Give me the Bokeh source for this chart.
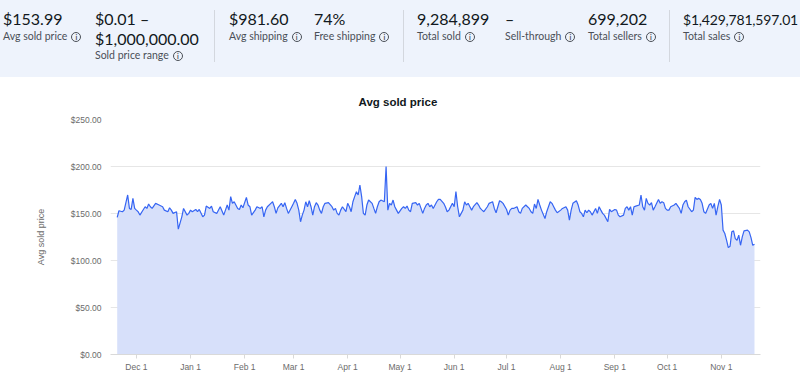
from bokeh.plotting import figure
from bokeh.models import Range1d, FixedTicker, NumeralTickFormatter, ColumnDataSource, Div
from bokeh.layouts import column
from bokeh.embed import file_html
from bokeh.resources import INLINE

# ---------------- data ----------------
START_DATE = "2022-11-20"   # day 0 of the series

day_offset = [
    0, 1, 3, 4, 6, 7, 8, 9, 10, 11, 12, 13, 15, 16, 17, 18, 19, 20, 22, 24, 26, 27, 29, 30, 31, 32,
    34, 35, 37, 38, 40, 41, 42, 43, 45, 46, 47, 49, 50, 51, 53, 54, 55, 57, 59, 61, 62, 63, 64, 65,
    66, 67, 69, 70, 71, 72, 74, 75, 76, 77, 79, 80, 82, 83, 84, 85, 86, 88, 89, 90, 91,
    92, 94, 95, 96, 97, 98, 100, 101, 102, 103, 104, 105, 106, 107, 108, 109, 110, 111, 112, 113,
    114, 115, 116, 117, 118, 119, 121, 123, 124, 125, 126, 127, 128, 129, 131, 132, 133, 134, 135,
    136, 137, 138, 139, 140, 141, 142, 143, 144, 146, 147, 148, 149, 150, 151, 153, 154, 155, 156,
    157, 158, 159, 160, 161, 163, 164, 165, 166, 167, 168, 169, 171, 172, 173, 175, 176, 177, 178,
    179, 180, 181, 183, 184, 185, 187, 188,
    189, 190, 192, 193, 194, 195, 196, 198, 199, 200, 201, 202, 203, 204, 206, 207, 208, 209, 210,
    212, 213, 215, 216, 217, 218, 219, 220, 221, 223, 224, 225, 226, 227, 229, 230, 231, 232, 234,
    235, 236, 237, 238, 239, 240, 241, 242, 243, 245, 246, 248, 249, 250, 251, 252, 254, 255, 257,
    258, 259, 260, 261, 263, 264, 265, 266, 267, 268, 269, 270, 271, 272, 274, 275, 276, 277, 278,
    279, 281,
    282, 283, 285, 286, 287, 288, 290, 291, 292, 293, 294, 295, 296, 297, 299, 300, 301, 302, 303,
    304, 305, 306, 307, 308, 310, 311, 312, 313, 314, 315, 316, 317, 319, 320, 322, 323, 324, 325,
    326, 327, 329, 330, 331, 332, 333, 334, 335, 336, 337, 339, 340, 341, 342, 343, 344, 345, 346,
    347, 348, 349, 350, 351, 352, 353, 354, 355, 356, 357, 358, 359, 361, 362, 363, 364, 365,
]

avg_price = [
    145.8, 152.9, 151.9, 153.6, 169.7, 155.4, 154.3, 166.1, 155.4, 153.6, 151.9, 148.3, 154.3, 157.2,
    155.4, 160.1, 157.2, 155.4, 160.8, 159.0, 157.2, 153.6, 151.9, 156.1, 153.6, 150.1,
    151.9, 133.3, 146.5, 155.4, 148.3, 150.1, 153.6, 151.9, 154.3, 151.9, 154.3, 146.5, 148.3, 157.9,
    155.4, 157.9, 151.9, 150.1, 157.2, 148.3, 153.6, 159.0, 153.6, 167.9,
    160.8, 162.5, 155.4, 154.3, 159.0, 156.1, 167.2, 159.0, 157.2, 148.3, 153.6, 157.2, 155.4, 157.2,
    146.5, 153.6, 157.2, 160.8, 162.5, 157.2, 150.1,
    156.0, 160.8, 157.2, 161.5, 155.4, 150.1, 157.2, 160.8, 165.0, 160.8, 153.6, 141.2, 148.3, 153.6,
    162.5, 157.2, 163.6, 157.2, 148.3, 157.2,
    161.5, 159.0, 153.6, 150.1, 157.2, 160.8, 161.5, 157.2, 153.6, 155.4, 150.1, 148.3, 153.6, 157.2,
    151.9, 160.8, 157.2, 151.9, 162.5,
    167.9, 173.2, 169.7, 180.3, 167.9, 150.1, 148.3, 159.0, 164.3, 160.8, 155.4, 150.1, 157.2, 162.5,
    164.3, 162.5, 199.9, 153.6, 160.8,
    159.0, 164.3, 157.2, 153.6, 150.1, 155.4, 157.2, 155.4, 157.9, 153.6, 151.9, 160.8, 161.5, 159.0,
    160.8, 150.1, 155.4, 159.0, 160.8,
    157.2, 159.0, 155.4, 162.5, 165.0, 165.0, 160.8, 157.0,
    151.9, 153.6, 160.8, 157.2, 173.2, 157.2, 146.5, 153.6, 162.5, 159.0, 160.8, 157.2, 153.6, 157.2,
    161.5, 159.0, 155.4, 153.6, 151.9,
    157.2, 160.8, 162.5, 155.4, 150.8, 157.2, 163.6, 162.5, 160.8, 154.3, 148.3, 153.6, 155.4, 155.4,
    157.2, 151.9, 150.1, 155.4, 159.0,
    157.2, 155.4, 151.9, 150.1, 160.1, 155.4, 165.0, 159.0, 153.6, 144.7, 151.9, 162.5, 160.8, 157.2,
    153.6, 150.8, 153.6, 155.4, 157.2,
    153.6, 142.9, 153.6, 160.8, 163.6, 159.0, 151.9, 150.1, 146.5, 153.6, 150.8, 153.6, 151.9, 148.3,
    155.4, 150.1, 157.2, 153.6, 150.1,
    148.3, 141.2,
    154.3, 151.9, 154.3, 153.6, 148.3, 146.5, 148.3, 155.4, 157.2, 153.6, 157.2, 148.3, 157.2, 157.9,
    159.0, 169.7, 157.2, 153.6, 166.1,
    160.8, 159.0, 161.5, 153.6, 157.2, 165.0, 160.8, 162.5, 161.5, 155.4, 153.6, 153.6, 157.2, 159.0,
    160.8, 155.4, 150.1, 159.0, 162.5,
    164.3, 157.2, 151.9, 153.6, 167.2, 165.0, 166.1, 165.0, 160.8, 151.9, 150.1, 159.0, 160.8, 155.4,
    160.8, 148.3, 157.2, 165.0, 159.0,
    132.3, 128.7, 121.6, 113.7, 115.2, 130.5, 131.5, 123.3, 121.6, 126.9, 116.2, 125.1, 131.5, 132.3,
    130.5, 124.4, 116.2, 117.3,
]

tick_days = [11, 42, 73, 101, 132, 162, 193, 223, 254, 285, 315, 346]
tick_labels = ["Dec 1", "Jan 1", "Feb 1", "Mar 1", "Apr 1", "May 1", "Jun 1",
               "Jul 1", "Aug 1", "Sep 1", "Oct 1", "Nov 1"]
y_ticks = [0, 50, 100, 150, 200, 250]

stat_values = ["$153.99", "$0.01 \u2013", "$981.60", "74%", "9,284,899", "\u2013",
               "699,202", "$1,429,781,597.01"]
range_upper = "$1,000,000.00"
stat_labels = ["Avg sold price", "Sold price range", "Avg shipping", "Free shipping",
               "Total sold", "Sell-through", "Total sellers", "Total sales"]

# ---------------- layout / style ----------------
BAND = "#eef3fc"
FILL = "#d7e0fa"
LINE = "#3665f3"
DARK = "#111820"
LABEL = "#4a4f57"
AXIS_TXT = "#6b6b6b"

W, H_HDR, H_CHART = 800, 77, 309
BORDER_L, BORDER_R = 110, 40

stat_x = [3, 95, 229, 314, 417, 505, 588, 683]
value_size = [16, 16, 16, 16, 16, 16, 16, 14]
value_spacing = [0, 0, 0, 0, 0, 0, 0, -0.2]
label_top = [30.7, 49.7, 30.7, 30.7, 30.7, 30.7, 30.7, 30.7]
sep_x = [214, 403, 669]


def html_escape(s):
    return s.replace("&", "&amp;").replace("<", "&lt;").replace(">", "&gt;")


ICON = ('<span style="display:inline-block;box-sizing:border-box;width:10px;height:10px;'
        'border:1px solid %s;border-radius:50%%;font-size:7px;line-height:8px;'
        'text-align:center;font-weight:bold;vertical-align:middle;margin-left:4px;'
        'font-family:Lato;">i</span>' % LABEL)

parts = ['<div style="position:relative;width:%dpx;height:%dpx;background:%s;'
         'overflow:hidden;font-family:Lato;">' % (W, H_HDR, BAND)]
for x, v, sz, ls in zip(stat_x, stat_values, value_size, value_spacing):
    top = 25 - 0.887 * sz
    parts.append('<span style="position:absolute;left:%spx;top:%.1fpx;font-size:%spx;'
                 'line-height:%spx;letter-spacing:%spx;color:%s;white-space:nowrap;">%s</span>'
                 % (x, top, sz, sz, ls, DARK, html_escape(v)))
parts.append('<span style="position:absolute;left:%spx;top:%.1fpx;font-size:16px;'
             'line-height:16px;color:%s;white-space:nowrap;">%s</span>'
             % (stat_x[1], 45 - 0.887 * 16, DARK, html_escape(range_upper)))
for x, lab, top in zip(stat_x, stat_labels, label_top):
    parts.append('<span style="position:absolute;left:%spx;top:%.1fpx;font-size:10.5px;'
                 'line-height:10.5px;color:%s;white-space:nowrap;">%s%s</span>'
                 % (x, top, LABEL, html_escape(lab), ICON))
for sx in sep_x:
    parts.append('<div style="position:absolute;left:%spx;top:10px;width:0;height:52px;'
                 'border-left:1px solid #d3d7de;"></div>' % sx)
parts.append('</div>')

hdr = Div(text="".join(parts), width=W, height=H_HDR, margin=0, disable_math=True)

# ---------------- chart ----------------
src = ColumnDataSource(dict(d=day_offset, v=avg_price))

p = figure(width=W, height=H_CHART, x_range=Range1d(-3.84, 368.44), y_range=Range1d(0, 250),
           toolbar_location=None, output_backend="svg",
           min_border_left=BORDER_L, min_border_right=BORDER_R, min_border_top=42,
           min_border_bottom=32,
           outline_line_color=None, background_fill_color="white", border_fill_color="white")

p.title.text = "Avg sold price"
p.title.align = "left"
p.title.offset = 248
p.title.standoff = 24
p.title.text_font = "Liberation Sans"
p.title.text_font_size = "11.5px"
p.title.text_font_style = "bold"
p.title.text_color = DARK

p.varea(x="d", y1=0, y2="v", source=src, fill_color=FILL)
p.line(x="d", y="v", source=src, line_color=LINE, line_width=1.2)

p.xgrid.grid_line_color = None
p.ygrid.grid_line_color = "#e6e6e6"
p.ygrid.grid_line_width = 1

p.yaxis.ticker = FixedTicker(ticks=y_ticks)
p.yaxis.formatter = NumeralTickFormatter(format="$0,0.00")
p.yaxis.axis_line_color = None
p.yaxis.major_tick_line_color = None
p.yaxis.minor_tick_line_color = None
p.yaxis.major_tick_out = 0
p.yaxis.major_tick_in = 0
p.yaxis.major_label_standoff = 9
p.yaxis.major_label_text_font = "Liberation Sans"
p.yaxis.major_label_text_font_size = "8.5px"
p.yaxis.major_label_text_color = AXIS_TXT
p.yaxis.axis_label = "Avg sold price"
p.yaxis.axis_label_text_font = "Liberation Sans"
p.yaxis.axis_label_text_font_size = "9px"
p.yaxis.axis_label_text_font_style = "normal"
p.yaxis.axis_label_text_color = AXIS_TXT
p.yaxis.axis_label_standoff = 22

p.xaxis.ticker = FixedTicker(ticks=tick_days)
p.xaxis.major_label_overrides = {d: lab for d, lab in zip(tick_days, tick_labels)}
p.xaxis.axis_line_color = "#d9d9d9"
p.xaxis.major_tick_line_color = "#d9d9d9"
p.xaxis.minor_tick_line_color = None
p.xaxis.major_tick_out = 4
p.xaxis.major_tick_in = 0
p.xaxis.major_label_standoff = 3
p.xaxis.major_label_text_font = "Liberation Sans"
p.xaxis.major_label_text_font_size = "8.5px"
p.xaxis.major_label_text_color = AXIS_TXT

layout = column(hdr, p, spacing=0)

open("out.html", "w").write(file_html(layout, INLINE))
